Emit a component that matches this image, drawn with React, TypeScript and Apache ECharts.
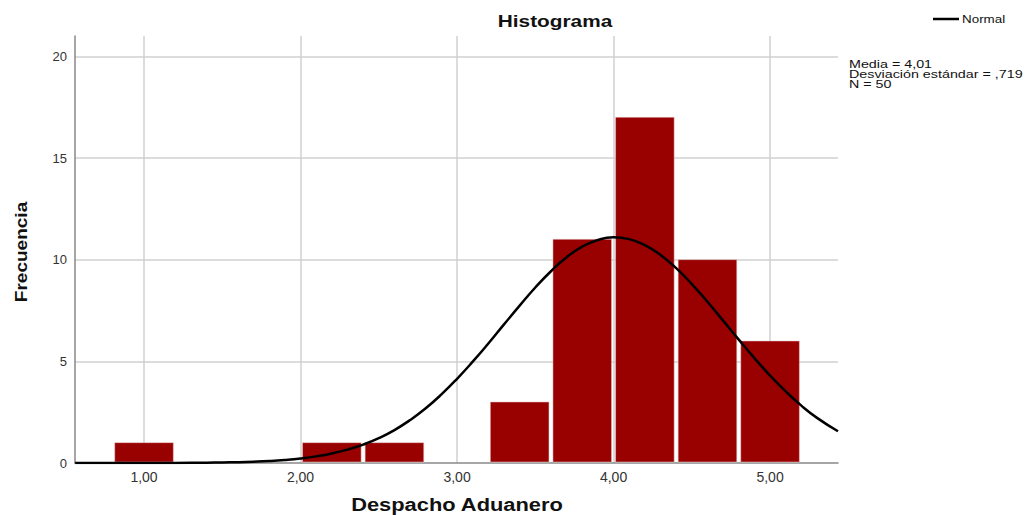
import React, { useEffect, useRef } from "react";
import * as echarts from "echarts";

const binStarts = [0.8, 2.0, 2.4, 3.2, 3.6, 4.0, 4.4, 4.8];
const binEnds = [1.2, 2.4, 2.8, 3.6, 4.0, 4.4, 4.8, 5.2];
const counts = [1, 1, 1, 3, 11, 17, 10, 6];

const curveX = [
  0.56, 1.0, 1.2, 1.4, 1.5, 1.6, 1.7, 1.8, 1.9, 2.0, 2.1, 2.2, 2.3, 2.4, 2.5, 2.6, 2.7, 2.8, 2.9, 3.0,
  3.1, 3.2, 3.3, 3.4, 3.5, 3.6, 3.7, 3.8, 3.9, 4.0, 4.1, 4.2, 4.3, 4.4, 4.5, 4.6, 4.7, 4.8, 4.9, 5.0,
  5.1, 5.2, 5.3, 5.434,
];
const curveY = [
  0.0001, 0.0017, 0.0054, 0.0152, 0.025, 0.04, 0.064, 0.098, 0.15, 0.223, 0.326, 0.467, 0.656, 0.905, 1.223, 1.62, 2.111, 2.69, 3.371, 4.14,
  4.983, 5.88, 6.816, 7.74, 8.631, 9.43, 10.12, 10.64, 10.97, 11.1, 11.01, 10.72, 10.23, 9.58, 8.8, 7.93, 7.0, 6.07, 5.16, 4.3,
  3.52, 2.82, 2.22, 1.56,
];

const statsLines = ["Media = 4,01", "Desviación estándar = ,719", "N = 50"];

const FONT = "Liberation Sans, Arial, sans-serif";

export default function App() {
  const ref = useRef<HTMLDivElement>(null);
  useEffect(() => {
    if (!ref.current) return;
    const chart = echarts.init(ref.current, undefined, { renderer: "svg" });
    const barData = binStarts.map((s, i) => [s, binEnds[i], counts[i]]);
    const lineData = curveX.map((x, i) => [x, curveY[i]]);
    chart.setOption({
      animation: false,
      backgroundColor: "#ffffff",
      textStyle: { fontFamily: FONT },
      grid: { left: 75, right: 190, top: 36, bottom: 52 },
      xAxis: {
        type: "value",
        min: 0.559,
        max: 5.434,
        splitNumber: 5,
        axisLine: { show: true, onZero: false, lineStyle: { color: "#888888", width: 1.5 } },
        axisTick: { show: false },
        axisLabel: {
          showMinLabel: false,
          showMaxLabel: false,
          color: "#333333",
          fontSize: 14,
          fontFamily: FONT,
          margin: 7,
          formatter: (v: number) => v.toFixed(2).replace(".", ","),
        },
        splitLine: { show: true, showMinLine: false, showMaxLine: false, lineStyle: { color: "#d0d0d0", width: 1.5 } },
      },
      yAxis: {
        type: "value",
        min: 0,
        max: 21,
        interval: 5,
        axisLine: { show: true, lineStyle: { color: "#888888", width: 1.5 } },
        axisTick: { show: false },
        axisLabel: { showMaxLabel: false, color: "#333333", fontSize: 13, fontFamily: FONT, margin: 8 },
        splitLine: { show: true, showMinLine: false, showMaxLine: false, lineStyle: { color: "#d0d0d0", width: 1.5 } },
      },
      series: [
        {
          type: "custom",
          data: barData,
          encode: { x: [0, 1], y: 2 },
          renderItem: (params: any, api: any) => {
            const p0 = api.coord([api.value(0), 0]);
            const p1 = api.coord([api.value(1), api.value(2)]);
            return {
              type: "rect",
              shape: { x: p0[0] + 2, y: p1[1], width: p1[0] - p0[0] - 4, height: p0[1] - p1[1] - 1 },
              style: { fill: "#990000", stroke: "#e8c8c8", lineWidth: 0.5 },
            };
          },
          z: 2,
        },
        {
          type: "line",
          name: "Normal",
          data: lineData,
          smooth: true,
          showSymbol: false,
          symbol: "none",
          lineStyle: { color: "#000000", width: 2.5 },
          clip: true,
          z: 3,
        },
      ],
      graphic: [
        {
          type: "text",
          x: 555,
          y: 21,
          scaleX: 1.3,
          style: { text: "Histograma", font: `bold 16px ${FONT}`, fill: "#111111", align: "center", verticalAlign: "middle" },
        },
        {
          type: "text",
          x: 21,
          y: 252,
          rotation: Math.PI / 2,
          scaleX: 1.12,
          style: { text: "Frecuencia", font: `bold 17px ${FONT}`, fill: "#111111", align: "center", verticalAlign: "middle" },
        },
        {
          type: "text",
          x: 457,
          y: 504,
          scaleX: 1.15,
          style: { text: "Despacho Aduanero", font: `bold 19px ${FONT}`, fill: "#111111", align: "center", verticalAlign: "middle" },
        },
        {
          type: "line",
          shape: { x1: 933, y1: 19, x2: 959, y2: 19 },
          style: { stroke: "#000000", lineWidth: 2.5 },
        },
        {
          type: "text",
          x: 962,
          y: 19,
          scaleX: 1.22,
          style: { text: "Normal", font: `11px ${FONT}`, fill: "#111111", verticalAlign: "middle" },
        },
        {
          type: "text",
          x: 849,
          y: 59,
          scaleX: 1.3,
          style: { text: statsLines.join("\n"), font: `11px ${FONT}`, lineHeight: 10, fill: "#111111", verticalAlign: "top" },
        },
      ],
    });
    return () => chart.dispose();
  }, []);
  return <div ref={ref} style={{ width: 1028, height: 515, position: "absolute", left: 0, top: 0 }} />;
}
